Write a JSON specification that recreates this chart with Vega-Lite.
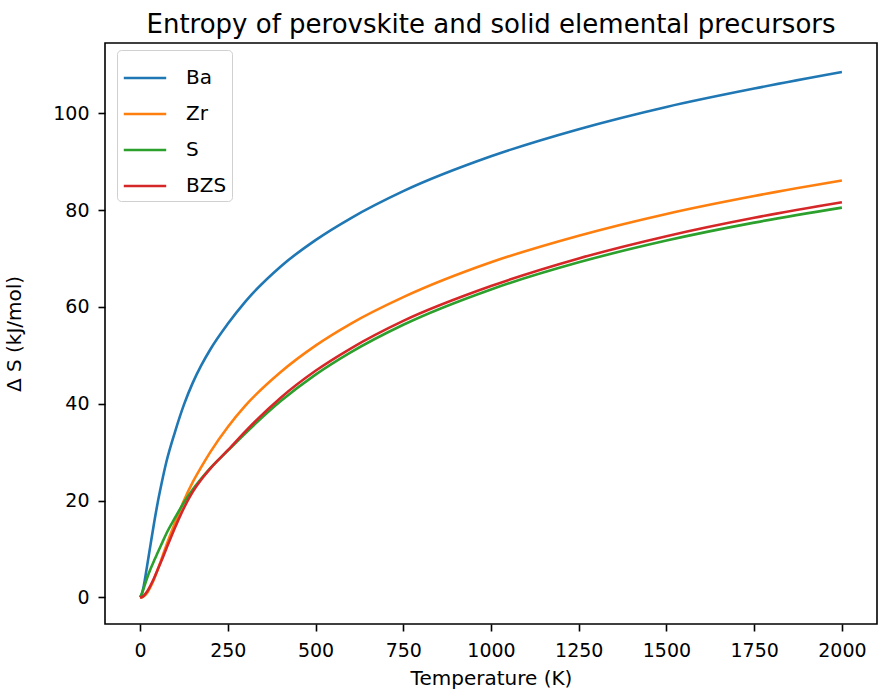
{
  "$schema": "https://vega.github.io/schema/vega-lite/v6.json",
  "autosize": "none",
  "width": 772,
  "height": 581,
  "padding": {"left": 105, "top": 43, "right": 1, "bottom": 69},
  "background": "white",
  "title": {"text": "Entropy of perovskite and solid elemental precursors", "font": "DejaVu Sans", "fontSize": 26, "fontWeight": "normal", "color": "#000", "anchor": "middle", "offset": 5},
  "config": {
    "view": {"stroke": "#000", "strokeWidth": 1.6},
    "axis": {"domain": false, "grid": false, "tickColor": "#000", "tickSize": 7, "tickWidth": 1.6, "labelFont": "DejaVu Sans", "labelFontSize": 19, "labelColor": "#000", "titleFont": "DejaVu Sans", "titleFontSize": 20, "titleFontWeight": "normal", "titleColor": "#000", "labelPadding": 8, "format": "d"}
  },
  "data": {"values": [
    {"T": 0, "S": 0, "series": "Ba"}, {"T": 5, "S": 0.7, "series": "Ba"}, {"T": 10, "S": 2.2, "series": "Ba"}, {"T": 20, "S": 6.5, "series": "Ba"}, {"T": 30, "S": 11, "series": "Ba"}, {"T": 40, "S": 15.4, "series": "Ba"}, {"T": 50, "S": 19.5, "series": "Ba"}, {"T": 60, "S": 23.1, "series": "Ba"}, {"T": 75, "S": 28, "series": "Ba"}, {"T": 100, "S": 34.3, "series": "Ba"}, {"T": 125, "S": 39.8, "series": "Ba"}, {"T": 150, "S": 44.3, "series": "Ba"}, {"T": 175, "S": 48, "series": "Ba"}, {"T": 200, "S": 51.2, "series": "Ba"}, {"T": 250, "S": 56.5, "series": "Ba"}, {"T": 300, "S": 61.1, "series": "Ba"}, {"T": 400, "S": 68.3, "series": "Ba"}, {"T": 500, "S": 73.8, "series": "Ba"}, {"T": 600, "S": 78.3, "series": "Ba"}, {"T": 750, "S": 83.9, "series": "Ba"}, {"T": 1000, "S": 91.1, "series": "Ba"}, {"T": 1250, "S": 96.7, "series": "Ba"}, {"T": 1500, "S": 101.3, "series": "Ba"}, {"T": 1750, "S": 105.1, "series": "Ba"}, {"T": 2000, "S": 108.5, "series": "Ba"},
    {"T": 0, "S": 0, "series": "Zr"}, {"T": 5, "S": 0.05, "series": "Zr"}, {"T": 10, "S": 0.2, "series": "Zr"}, {"T": 20, "S": 0.9, "series": "Zr"}, {"T": 30, "S": 2.2, "series": "Zr"}, {"T": 40, "S": 3.8, "series": "Zr"}, {"T": 50, "S": 5.7, "series": "Zr"}, {"T": 60, "S": 7.7, "series": "Zr"}, {"T": 75, "S": 10.8, "series": "Zr"}, {"T": 100, "S": 15.5, "series": "Zr"}, {"T": 125, "S": 20, "series": "Zr"}, {"T": 150, "S": 23.8, "series": "Zr"}, {"T": 175, "S": 27, "series": "Zr"}, {"T": 200, "S": 30, "series": "Zr"}, {"T": 250, "S": 35.2, "series": "Zr"}, {"T": 300, "S": 39.6, "series": "Zr"}, {"T": 400, "S": 46.5, "series": "Zr"}, {"T": 500, "S": 52, "series": "Zr"}, {"T": 600, "S": 56.5, "series": "Zr"}, {"T": 750, "S": 62, "series": "Zr"}, {"T": 1000, "S": 69.2, "series": "Zr"}, {"T": 1250, "S": 74.7, "series": "Zr"}, {"T": 1500, "S": 79.2, "series": "Zr"}, {"T": 1750, "S": 82.9, "series": "Zr"}, {"T": 2000, "S": 86.1, "series": "Zr"},
    {"T": 0, "S": 0, "series": "S"}, {"T": 5, "S": 0.8, "series": "S"}, {"T": 10, "S": 1.8, "series": "S"}, {"T": 20, "S": 4, "series": "S"}, {"T": 30, "S": 5.9, "series": "S"}, {"T": 40, "S": 7.6, "series": "S"}, {"T": 50, "S": 9.2, "series": "S"}, {"T": 60, "S": 10.8, "series": "S"}, {"T": 75, "S": 13.2, "series": "S"}, {"T": 100, "S": 16.5, "series": "S"}, {"T": 125, "S": 19.6, "series": "S"}, {"T": 150, "S": 22.3, "series": "S"}, {"T": 175, "S": 24.6, "series": "S"}, {"T": 200, "S": 26.7, "series": "S"}, {"T": 250, "S": 30.3, "series": "S"}, {"T": 300, "S": 33.9, "series": "S"}, {"T": 400, "S": 40.5, "series": "S"}, {"T": 500, "S": 46, "series": "S"}, {"T": 600, "S": 50.6, "series": "S"}, {"T": 750, "S": 56.3, "series": "S"}, {"T": 1000, "S": 63.6, "series": "S"}, {"T": 1250, "S": 69.2, "series": "S"}, {"T": 1500, "S": 73.7, "series": "S"}, {"T": 1750, "S": 77.4, "series": "S"}, {"T": 2000, "S": 80.5, "series": "S"},
    {"T": 0, "S": 0, "series": "BZS"}, {"T": 5, "S": 0.05, "series": "BZS"}, {"T": 10, "S": 0.3, "series": "BZS"}, {"T": 20, "S": 1.2, "series": "BZS"}, {"T": 30, "S": 2.5, "series": "BZS"}, {"T": 40, "S": 4, "series": "BZS"}, {"T": 50, "S": 5.7, "series": "BZS"}, {"T": 60, "S": 7.4, "series": "BZS"}, {"T": 75, "S": 10.1, "series": "BZS"}, {"T": 100, "S": 14.5, "series": "BZS"}, {"T": 125, "S": 18.5, "series": "BZS"}, {"T": 150, "S": 21.8, "series": "BZS"}, {"T": 175, "S": 24.4, "series": "BZS"}, {"T": 200, "S": 26.6, "series": "BZS"}, {"T": 250, "S": 30.4, "series": "BZS"}, {"T": 300, "S": 34.3, "series": "BZS"}, {"T": 400, "S": 41.2, "series": "BZS"}, {"T": 500, "S": 46.8, "series": "BZS"}, {"T": 600, "S": 51.4, "series": "BZS"}, {"T": 750, "S": 57.1, "series": "BZS"}, {"T": 1000, "S": 64.3, "series": "BZS"}, {"T": 1250, "S": 70, "series": "BZS"}, {"T": 1500, "S": 74.6, "series": "BZS"}, {"T": 1750, "S": 78.4, "series": "BZS"}, {"T": 2000, "S": 81.6, "series": "BZS"}
  ]},
  "mark": {"type": "line", "strokeWidth": 2.6, "interpolate": "monotone", "clip": true},
  "encoding": {
    "x": {"field": "T", "type": "quantitative", "scale": {"domain": [-100, 2100], "nice": false, "zero": false},
      "axis": {"values": [0, 250, 500, 750, 1000, 1250, 1500, 1750, 2000], "title": "Temperature (K)", "titlePadding": 8, "labelPadding": 10}},
    "y": {"field": "S", "type": "quantitative", "scale": {"domain": [-5.5, 114.5], "nice": false, "zero": false},
      "axis": {"values": [0, 20, 40, 60, 80, 100], "title": "Δ S (kJ/mol)", "titlePadding": 28, "labelPadding": 9}},
    "color": {"field": "series", "type": "nominal", "sort": ["Ba", "Zr", "S", "BZS"],
      "scale": {"domain": ["Ba", "Zr", "S", "BZS"], "range": ["#1f77b4", "#ff7f0e", "#2ca02c", "#d62728"]},
      "legend": {"title": null, "orient": "none", "legendX": 12, "legendY": 7, "symbolType": "stroke", "symbolSize": 1800, "symbolStrokeWidth": 2.6, "labelFont": "DejaVu Sans", "labelFontSize": 20, "labelColor": "#000", "labelOffset": 18, "rowPadding": 3, "padding": 5, "strokeColor": "#d0d0d0", "fillColor": "white", "cornerRadius": 4}}
  }
}
